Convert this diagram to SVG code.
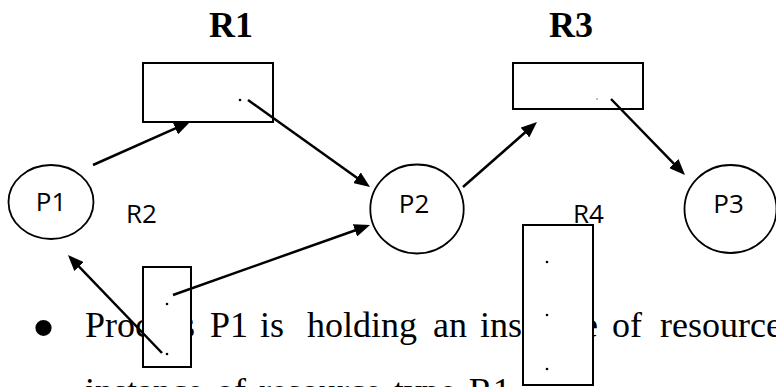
<svg xmlns="http://www.w3.org/2000/svg" width="776" height="387" viewBox="0 0 776 387">
  <style>
    .body { font-family: "Liberation Serif", "Times New Roman", serif; font-size: 36px; fill: #000; }
    .bullet { font-family: "Liberation Sans", Arial, sans-serif; font-size: 60px; fill: #000; }
    .head { font-family: "Liberation Serif", "Times New Roman", serif; font-size: 36px; font-weight: bold; fill: #000; text-anchor: middle; }
    .lbl { font-family: "Open Sans", "Liberation Sans", sans-serif; font-size: 26px; fill: #000; text-anchor: middle; }
    .proc { fill: #fff; stroke: #000; stroke-width: 1.8; }
    .res { fill: #fff; stroke: #000; stroke-width: 2; }
    .dot { fill: #000; }
    .edge { stroke: #000; stroke-width: 2.5; fill: none; marker-end: url(#head); }
  </style>
  <defs>
    <marker id="head" markerUnits="userSpaceOnUse" markerWidth="16" markerHeight="13" refX="8" refY="6.5" orient="auto">
      <path d="M0,0 L16,6.5 L0,13 z" fill="#000"/>
    </marker>
  </defs>
  <rect width="776" height="387" fill="#fff"/>

  <!-- body text, partly hidden behind the resource boxes -->
  <g id="body-text">
    <text class="bullet" x="33" y="348">•</text>
    <text class="body" y="337"><tspan x="85">Process</tspan><tspan x="210">P1</tspan><tspan x="260">is</tspan><tspan x="307">holding</tspan><tspan x="433">an</tspan><tspan x="480">instance</tspan><tspan x="612">of</tspan><tspan x="660">resource</tspan></text>
    <text class="body" x="85" y="403" word-spacing="4">instance of resource type R1</text>
  </g>

  <!-- resource type headings -->
  <text class="head" x="231" y="37">R1</text>
  <text class="head" x="571" y="37">R3</text>

  <!-- resources -->
  <g id="R1">
    <rect class="res" x="143" y="63" width="130" height="59"/>
    <circle class="dot" cx="240" cy="100" r="1.3"/>
  </g>
  <g id="R3">
    <rect class="res" x="513" y="63" width="130" height="46"/>
    <circle cx="597" cy="99" r="1" fill="#aaa"/>
  </g>
  <g id="R2">
    <text class="lbl" x="141.5" y="223">R2</text>
    <rect class="res" x="143" y="267" width="48" height="100"/>
    <circle class="dot" cx="167" cy="304" r="1.3"/>
    <circle class="dot" cx="167" cy="354" r="1.3"/>
  </g>
  <g id="R4">
    <rect class="res" x="523" y="225" width="70" height="160"/>
    <text class="lbl" x="588.5" y="223">R4</text>
    <circle class="dot" cx="547" cy="262" r="1.3"/>
    <circle class="dot" cx="547" cy="315" r="1.3"/>
    <circle class="dot" cx="547" cy="369" r="1.3"/>
  </g>

  <!-- processes -->
  <g id="P1">
    <ellipse class="proc" cx="51" cy="202" rx="42.5" ry="37"/>
    <text class="lbl" x="51" y="211">P1</text>
  </g>
  <g id="P2">
    <ellipse class="proc" cx="417" cy="209" rx="46.7" ry="44.5"/>
    <text class="lbl" x="414" y="213">P2</text>
  </g>
  <g id="P3">
    <ellipse class="proc" cx="730.5" cy="209" rx="46" ry="44"/>
    <text class="lbl" x="728.5" y="213">P3</text>
  </g>

  <!-- request and assignment edges -->
  <g id="edges">
    <line class="edge" x1="93" y1="165" x2="182.7" y2="125.2"/>
    <line class="edge" x1="248" y1="100" x2="363.5" y2="182.4"/>
    <line class="edge" x1="463" y1="187" x2="531.0" y2="127.3"/>
    <line class="edge" x1="611" y1="99" x2="679.4" y2="169.3"/>
    <line class="edge" x1="162" y1="353" x2="73.5" y2="260.8"/>
    <line class="edge" x1="173" y1="295" x2="362.5" y2="227.7"/>
  </g>
</svg>
